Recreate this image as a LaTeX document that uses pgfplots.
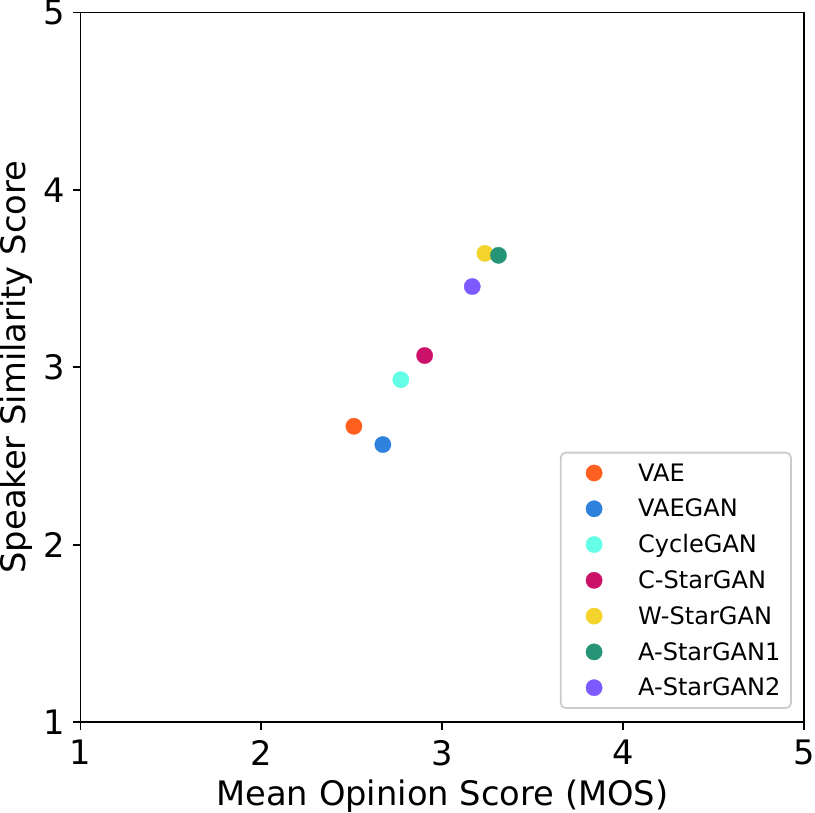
\documentclass[border=0pt]{standalone}
\usepackage{fontspec}
\setmainfont{DejaVu Sans}
\usepackage{pgfplots}
\pgfplotsset{compat=1.18}
\definecolor{cVAE}{HTML}{FF5F1F}
\definecolor{cVAEGAN}{HTML}{2E82DC}
\definecolor{cCycle}{HTML}{64FFE6}
\definecolor{cC}{HTML}{CC116A}
\definecolor{cW}{HTML}{F4D42C}
\definecolor{cA1}{HTML}{269476}
\definecolor{cA2}{HTML}{7D5AFF}
\begin{document}
\begin{tikzpicture}
\begin{axis}[
  scale only axis, width=725.4pt, height=711pt,
  xmin=1, xmax=5, ymin=1, ymax=5,
  xtick={1,2,3,4,5}, ytick={1,2,3,4,5},
  xtick pos=bottom, ytick pos=left,
  tick align=outside, major tick length=8pt,
  axis line style={line width=1.9pt},
  every tick/.style={line width=1.9pt, black},
  /pgf/number format/assume math mode=true,
  xticklabel style={font=\fontsize{33.8}{40}\selectfont, inner sep=0pt, anchor=north},
  yticklabel style={font=\fontsize{33.8}{40}\selectfont, inner sep=0pt, anchor=east},
  xticklabel shift=10.2pt,
  yticklabel shift=7.6pt,
  xlabel={Mean Opinion Score (MOS)},
  ylabel={Speaker Similarity Score},
  xlabel style={font=\fontsize{33.8}{40}\selectfont, inner sep=0pt,
    at={(axis description cs:0.5,0)}, anchor=base, yshift=-84pt},
  ylabel style={font=\fontsize{33.8}{40}\selectfont, inner sep=0pt,
    at={(axis description cs:0,0.5)}, anchor=base, yshift=55pt},
  legend style={at={(1,0)}, anchor=south east, xshift=-12.4pt, yshift=13pt,
    font=\fontsize{24.1}{29}\selectfont, draw=black!20, line width=1.8pt,
    rounded corners=5pt, inner xsep=10.6pt, inner ysep=2.5pt,
    column sep=0pt, row sep=0pt,
    nodes={inner sep=0pt}},
  legend cell align=left,
  legend image code/.code={\path (-22.7pt,-17.78pt) (44pt,17.78pt); \draw[#1] plot coordinates {(0pt,0pt)};},
  every axis plot/.append style={only marks, mark=*, mark size=8.2pt, line width=0.3pt},
]
\addplot[color=cVAE] coordinates {(2.511,2.667)};
\addlegendentry{VAE}
\addplot[color=cVAEGAN] coordinates {(2.671,2.564)};
\addlegendentry{VAEGAN}
\addplot[color=cCycle] coordinates {(2.770,2.930)};
\addlegendentry{CycleGAN}
\addplot[color=cC] coordinates {(2.902,3.066)};
\addlegendentry{C-StarGAN}
\addplot[color=cW] coordinates {(3.235,3.642)};
\addlegendentry{W-StarGAN}
\addplot[color=cA1] coordinates {(3.310,3.631)};
\addlegendentry{A-StarGAN1}
\addplot[color=cA2] coordinates {(3.165,3.455)};
\addlegendentry{A-StarGAN2}
\end{axis}
\end{tikzpicture}
\end{document}
